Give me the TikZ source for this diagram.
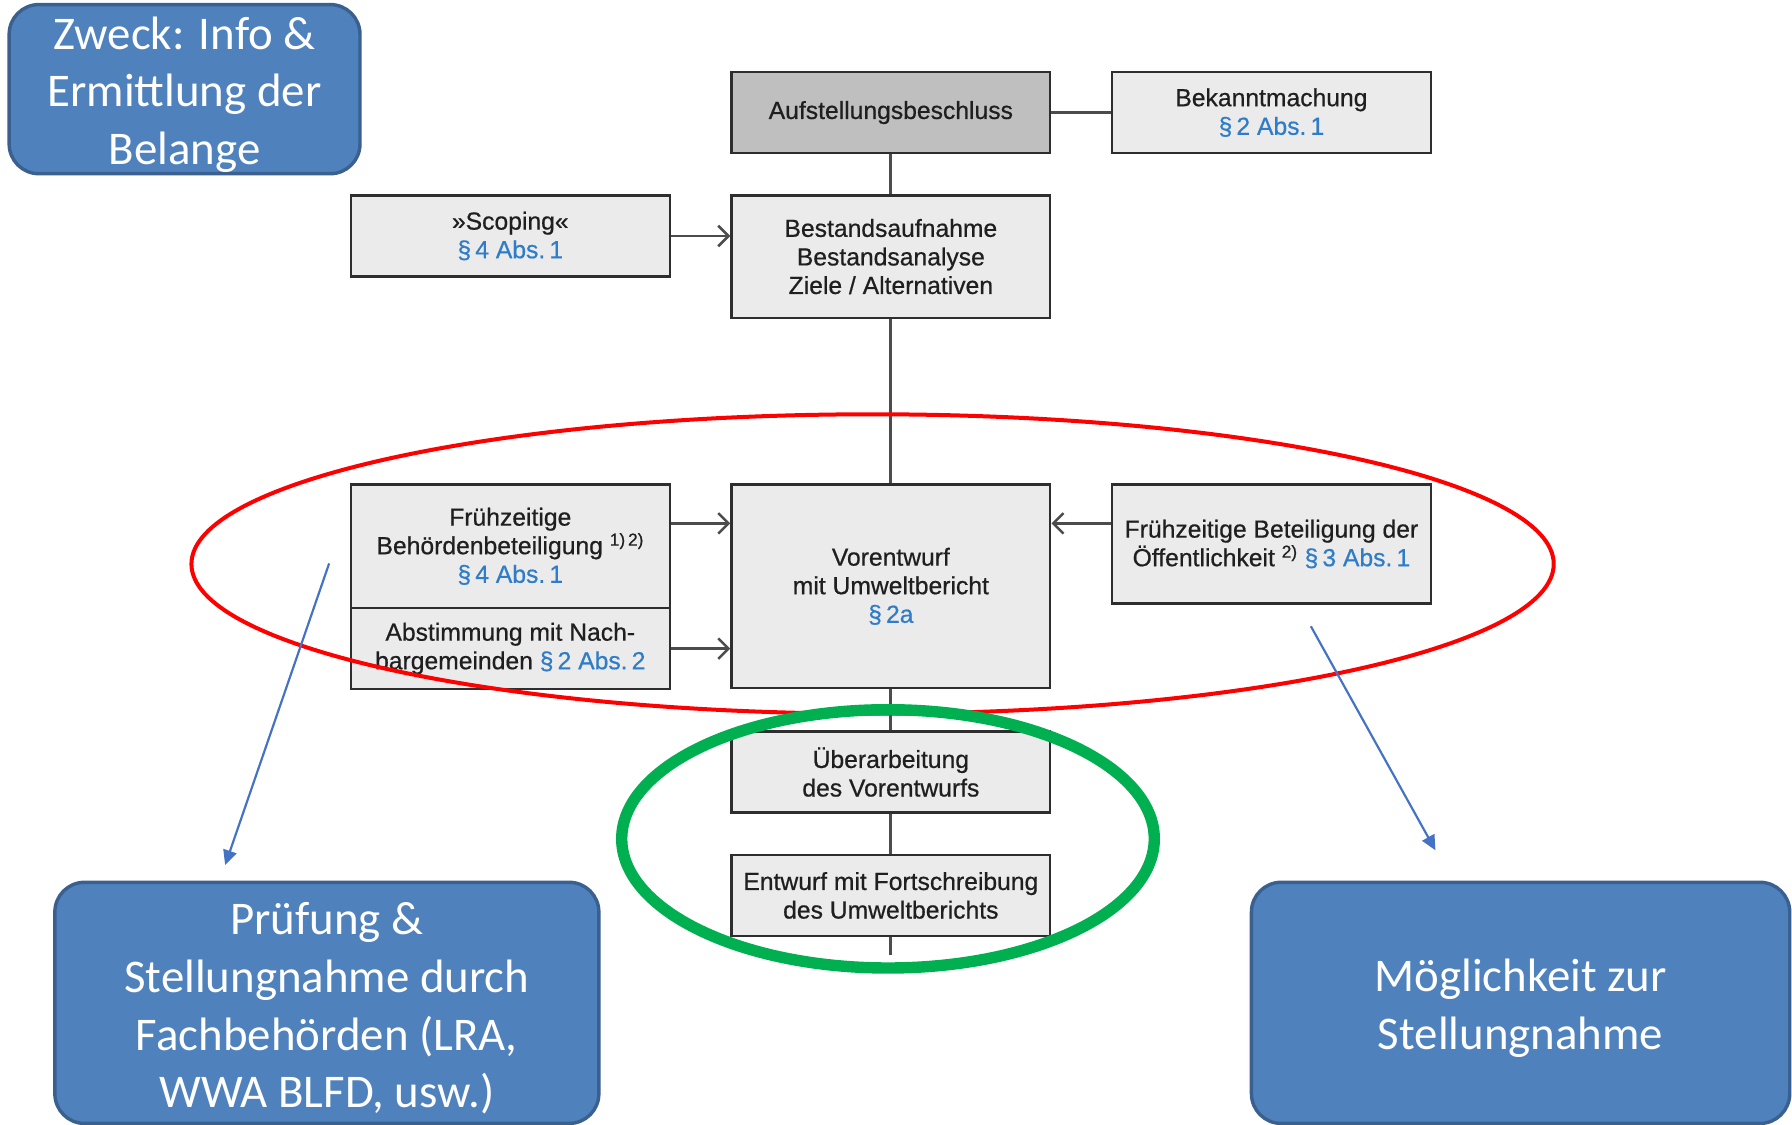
\documentclass[tikz,border=0pt]{standalone}
\usepackage{fontspec}
\setmainfont{Liberation Sans}[FakeBold=0.6]
\newfontfamily\calibri{Carlito}
\usetikzlibrary{arrows.meta}
\definecolor{boxgray}{HTML}{EBEBEB}
\definecolor{headgray}{HTML}{BFBFBF}
\definecolor{bordergray}{HTML}{2E2E2E}
\definecolor{linkblue}{HTML}{2F7DC8}
\definecolor{pptblue}{HTML}{4F81BD}
\definecolor{pptborder}{HTML}{3A6090}
\definecolor{arrowblue}{HTML}{4472C4}
\definecolor{ovalgreen}{HTML}{00B050}
\newcommand{\para}[1]{\textcolor{linkblue}{#1}}
\newcommand{\topstrut}{\rule{0pt}{38pt}}
\begin{document}
\begin{tikzpicture}[x=1pt,y=-1pt,
  procbox/.style={draw=bordergray, line width=2pt, fill=boxgray, minimum width=279pt,
    inner sep=0pt, align=center, font=\fontsize{21.6}{25}\selectfont, text=black!88},
  callout/.style={draw=pptborder, line width=3pt, fill=pptblue, rounded corners=26pt,
    inner sep=0pt, align=center, text=white, font=\calibri\fontsize{41}{50.5}\selectfont},
  link/.style={draw=black!70, line width=2.5pt},
  flowarrow/.style={link, -{Straight Barb[length=9pt,width=18pt,line width=2.2pt]}},
  pointer/.style={draw=arrowblue, line width=1.9pt, -{Triangle[length=13pt,width=12pt]}}]
\useasboundingbox (0,0) rectangle (1568,984);

% process boxes
\node[procbox, fill=headgray, minimum height=71pt] (aufst) at (779.5,98.5) {\raisebox{-2pt}{Aufstellungsbeschluss}};
\node[procbox, minimum height=71pt] (bekannt) at (1112.5,98.5) {Bekanntmachung\\\para{§\,2 Abs.\,1}};
\node[procbox, minimum height=71pt] (scoping) at (446.5,206.5) {»Scoping«\\\para{§\,4 Abs.\,1}};
\node[procbox, minimum height=107pt] (bestand) at (779.5,224.5) {Bestandsaufnahme\\Bestandsanalyse\\Ziele / Alternativen};
\node[procbox, minimum height=108pt] (behoerd) at (446.5,478) {Frühzeitige\\Behördenbeteiligung \textsuperscript{1)\,2)}\\\para{§\,4 Abs.\,1}};
\node[procbox, minimum height=71pt] (abstimm) at (446.5,567.5) {Abstimmung mit Nach-\\bargemeinden \para{§\,2 Abs.\,2}};
\node[procbox, minimum height=178pt] (vorent) at (779.5,513) {Vorentwurf\\mit Umweltbericht\\\para{§\,2a}};
\node[procbox, minimum height=104pt] (oeff) at (1112.5,476) {Frühzeitige Beteiligung der\\Öffentlichkeit \textsuperscript{2)} \para{§\,3 Abs.\,1}};
\node[procbox, minimum height=71pt] (ueber) at (779.5,675.5) {Überarbeitung\\des Vorentwurfs};
\node[procbox, minimum height=71pt] (entwurf) at (779.5,783.5) {Entwurf mit Fortschreibung\\des Umweltberichts};
\coordinate (tail) at (779.5,836);

% connectors
\draw[link] (aufst.east) -- (bekannt.west);
\draw[link] (aufst.south) -- (bestand.north);
\draw[link] (bestand.south) -- (vorent.north);
\draw[link] (vorent.south) -- (ueber.north);
\draw[link] (ueber.south) -- (entwurf.north);
\draw[link] (entwurf.south) -- (tail);
\draw[flowarrow] (scoping.east) -- (scoping.east -| bestand.west);
\draw[flowarrow] ([yshift=20pt]behoerd.east) -- ([yshift=20pt]behoerd.east -| vorent.west);
\draw[flowarrow] (abstimm.east) -- (abstimm.east -| vorent.west);
\draw[flowarrow] ([yshift=18pt]oeff.west) -- ([yshift=18pt]oeff.west -| vorent.east);

% highlight ovals
\draw[red, line width=3.5pt] (763.5,493.5) ellipse [x radius=596pt, y radius=131pt];
\draw[ovalgreen, line width=10pt] (777,734) ellipse [x radius=233pt, y radius=113pt];

% callouts
\node[callout, minimum width=307pt, minimum height=148pt] (zweck) at (161.5,78) {\topstrut Zweck: Info \&\\Ermittlung der\\Belange};
\node[callout, minimum width=476pt, minimum height=211pt] (pruef) at (286,877.5) {\topstrut Prüfung \&\\Stellungnahme durch\\Fachbehörden (LRA,\\WWA BLFD, usw.)};
\node[callout, minimum width=471pt, minimum height=211pt] (moegl) at (1330.5,877.5) {\topstrut Möglichkeit zur\\Stellungnahme};

\coordinate (p1s) at (288,493);
\coordinate (p1e) at (197,757);
\coordinate (p2s) at (1147,548);
\coordinate (p2e) at (1256,744);
\draw[pointer] (p1s) -- (p1e);
\draw[pointer] (p2s) -- (p2e);
\end{tikzpicture}
\end{document}
